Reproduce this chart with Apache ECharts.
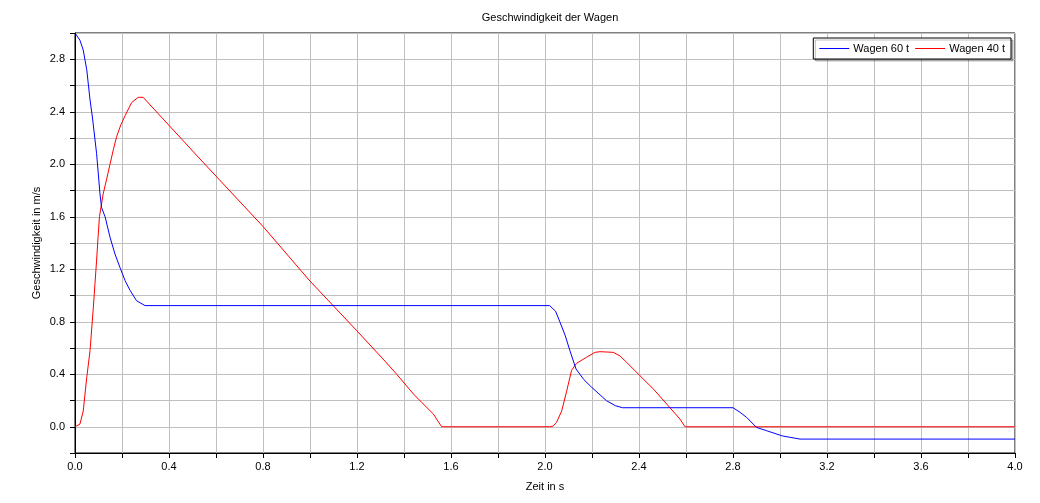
<!DOCTYPE html>
<html>
<head>
<meta charset="utf-8">
<script src="https://cdn.jsdelivr.net/npm/echarts@6/dist/echarts.min.js"></script>
<style>
html,body{margin:0;padding:0;background:#fff;}
#chart{width:1040px;height:503px;}
</style>
</head>
<body>
<div id="chart"></div>
<script>
var titleText = 'Geschwindigkeit der Wagen';
var xName = 'Zeit in s';
var yName = 'Geschwindigkeit in m/s';
var seriesNames = ['Wagen 60 t', 'Wagen 40 t'];

var tBlue = [0, 0.007, 0.021, 0.035, 0.05, 0.064, 0.074, 0.092, 0.106, 0.113, 0.128, 0.149, 0.17, 0.191, 0.213, 0.234, 0.262, 0.298, 2.02, 2.045, 2.064, 2.085, 2.106, 2.132, 2.165, 2.199, 2.262, 2.30, 2.33, 2.80, 2.83, 2.858, 2.90, 2.943, 3.01, 3.085, 4.0];
var vBlue = [3.0, 2.99, 2.945, 2.87, 2.72, 2.49, 2.36, 2.08, 1.78, 1.67, 1.60, 1.444, 1.317, 1.215, 1.114, 1.04, 0.96, 0.923, 0.923, 0.88, 0.796, 0.70, 0.58, 0.44, 0.36, 0.30, 0.198, 0.16, 0.145, 0.145, 0.11, 0.071, -0.005, -0.03, -0.07, -0.094, -0.094];

var tRed = [0, 0.008, 0.021, 0.035, 0.05, 0.064, 0.078, 0.085, 0.092, 0.098, 0.104, 0.12, 0.135, 0.149, 0.163, 0.177, 0.195, 0.213, 0.241, 0.269, 0.29, 0.532, 0.8, 1.0, 1.2, 1.319, 1.369, 1.44, 1.475, 1.525, 1.56, 2.02, 2.035, 2.049, 2.071, 2.092, 2.113, 2.134, 2.177, 2.213, 2.234, 2.29, 2.319, 2.348, 2.404, 2.461, 2.518, 2.574, 2.596, 4.0];
var vRed = [0, 0.0, 0.02, 0.12, 0.376, 0.58, 0.91, 1.09, 1.27, 1.44, 1.60, 1.775, 1.89, 2.0, 2.11, 2.21, 2.30, 2.37, 2.47, 2.51, 2.51, 2.04, 1.526, 1.11, 0.73, 0.50, 0.40, 0.25, 0.186, 0.097, 0, 0, 0.005, 0.033, 0.12, 0.27, 0.43, 0.483, 0.53, 0.567, 0.572, 0.567, 0.54, 0.49, 0.389, 0.288, 0.173, 0.059, 0, 0];

function pairs(t, v) { return t.map(function (x, i) { return [x, v[i]]; }); }
function lbl(v) {
  var k = Math.round(v * 10);
  return (k % 4 === 0) ? (k / 10).toFixed(1) : '';
}
var font = 'Liberation Sans, Arial, sans-serif';

var chart = echarts.init(document.getElementById('chart'), null, {renderer: 'canvas'});
chart.setOption({
  animation: false,
  backgroundColor: '#ffffff',
  title: {
    text: titleText, left: 545, top: 7, textAlign: 'center',
    textStyle: {fontFamily: font, fontSize: 11, fontWeight: 'normal', color: '#000'}
  },
  legend: {
    data: seriesNames,
    right: 29, top: 38,
    orient: 'horizontal',
    icon: 'rect', itemWidth: 30, itemHeight: 1, itemGap: 6,
    padding: [5, 6, 5, 6],
    backgroundColor: '#fff', borderColor: '#000', borderWidth: 1,
    shadowColor: 'rgba(0,0,0,0.25)', shadowOffsetX: 2, shadowOffsetY: 2, shadowBlur: 0,
    textStyle: {fontFamily: font, fontSize: 11, color: '#000', padding: [0, 0, 0, -1]}
  },
  grid: {
    left: 75, right: 25, top: 33, bottom: 50,
    show: true, borderColor: '#000', borderWidth: 1, backgroundColor: 'transparent'
  },
  xAxis: {
    type: 'value', min: 0, max: 4, interval: 0.2,
    name: xName, nameLocation: 'middle', nameGap: 28, nameMoveOverlap: false,
    nameTextStyle: {fontFamily: font, fontSize: 11, color: '#000'},
    axisLine: {show: true, onZero: false, lineStyle: {color: '#000', width: 1}},
    axisTick: {show: true, length: 5, lineStyle: {color: '#000'}},
    axisLabel: {formatter: lbl, fontFamily: font, fontSize: 11, color: '#000', margin: 8, showMinLabel: true, showMaxLabel: true},
    splitLine: {show: true, lineStyle: {color: '#c0c0c0', width: 1}}
  },
  yAxis: {
    type: 'value', min: -0.2, max: 3.0, interval: 0.2,
    name: yName, nameLocation: 'middle', nameGap: 33, nameRotate: 90, nameMoveOverlap: false,
    nameTextStyle: {fontFamily: font, fontSize: 11, color: '#000'},
    axisLine: {show: true, onZero: false, lineStyle: {color: '#000', width: 1}},
    axisTick: {show: true, length: 5, lineStyle: {color: '#000'}},
    axisLabel: {formatter: lbl, fontFamily: font, fontSize: 11, color: '#000', margin: 10},
    splitLine: {show: true, lineStyle: {color: '#c0c0c0', width: 1}}
  },
  series: [
    {name: seriesNames[0], type: 'line', data: pairs(tBlue, vBlue), showSymbol: false, symbol: 'none',
     lineStyle: {color: '#0000ff', width: 1}, itemStyle: {color: '#0000ff'}, z: 3},
    {name: seriesNames[1], type: 'line', data: pairs(tRed, vRed), showSymbol: false, symbol: 'none',
     lineStyle: {color: '#ff0000', width: 1}, itemStyle: {color: '#ff0000'}, z: 2}
  ]
});
</script>
</body>
</html>
